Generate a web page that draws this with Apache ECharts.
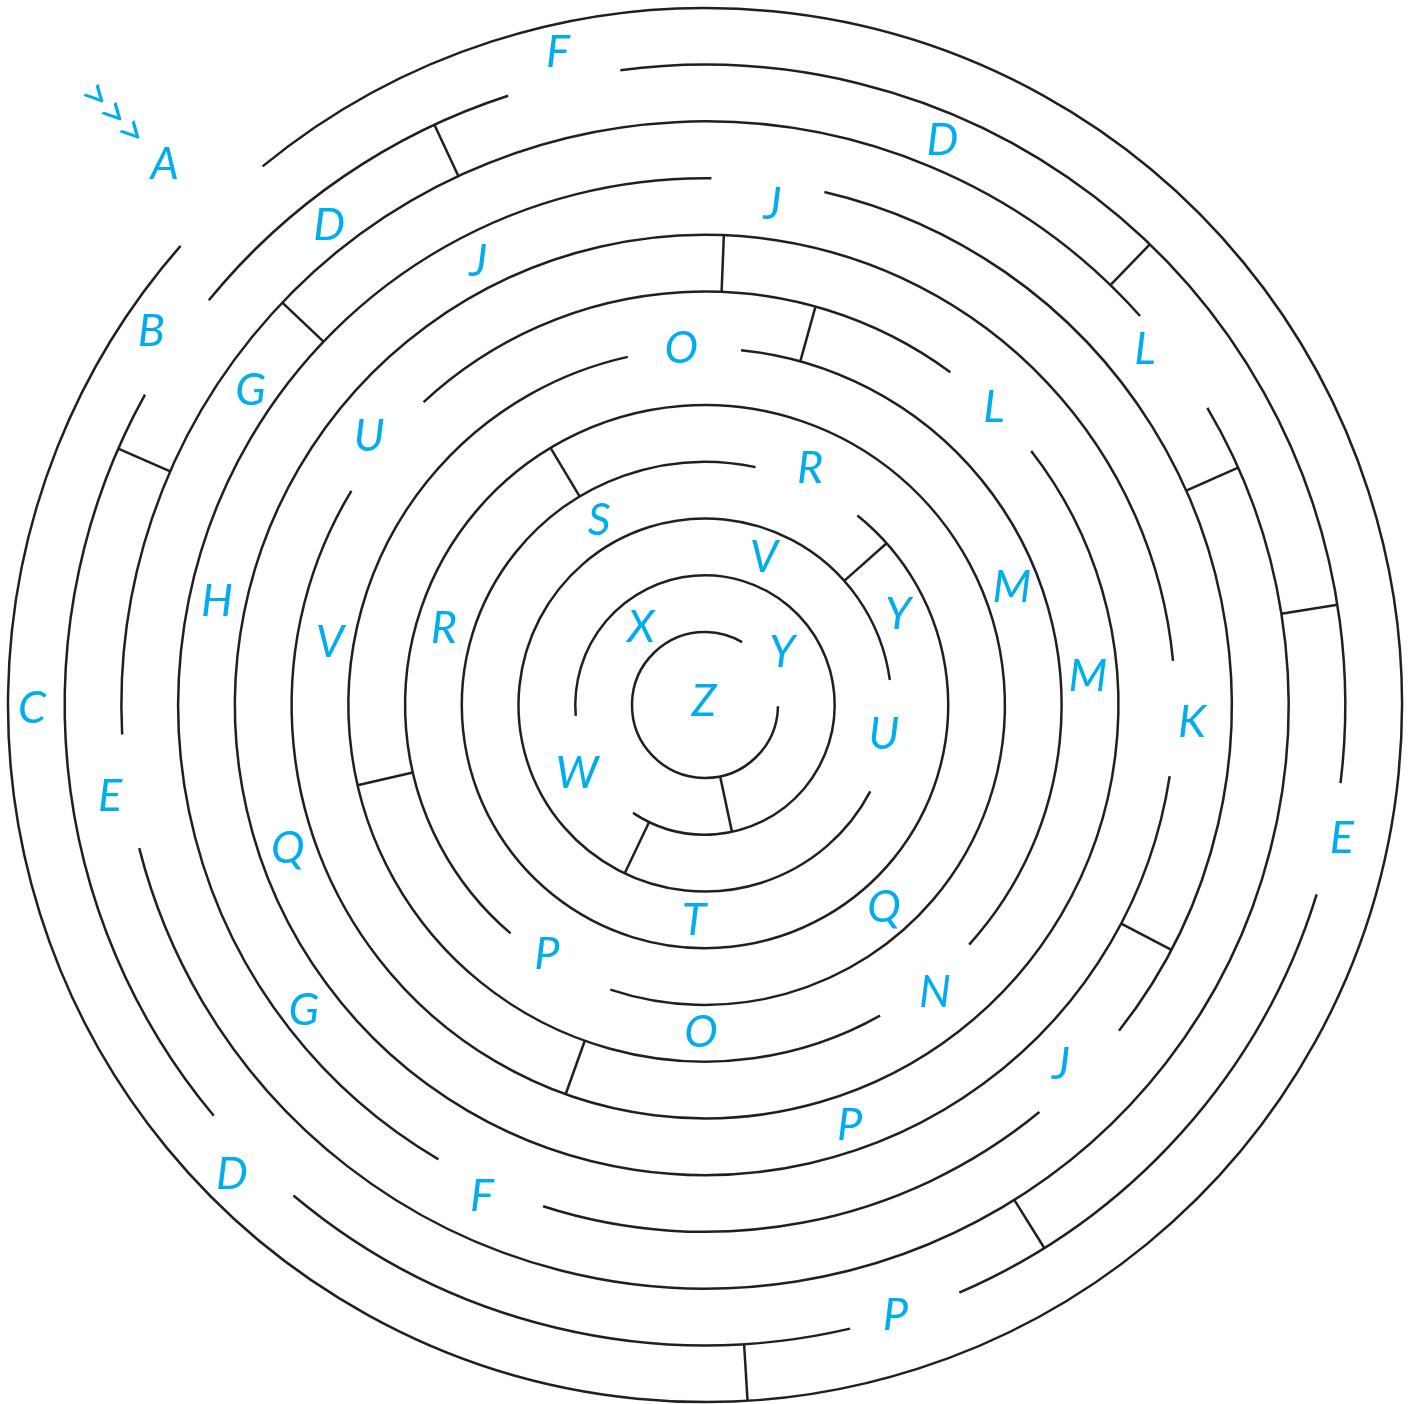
<!DOCTYPE html>
<html>
<head>
<meta charset="utf-8">
<script src="https://cdn.jsdelivr.net/npm/echarts@6/dist/echarts.min.js"></script>
<style>
html,body{margin:0;padding:0;background:#fff;}
#chart{width:1418px;height:1404px;}
</style>
</head>
<body>
<div id="chart"></div>
<script>
// Ring radii (maze units, from the centre outwards)
const RING_RADIUS = [73, 129.7, 186.5, 243.2, 299.9, 356.6, 413.4, 470.1, 526.8, 583.6, 640.3, 697];

// Circular wall segments: ring index, start angle, end angle (degrees, counter-clockwise from east)
const ARC_RING  = [0,    1,     2,    3,    4,     5,     5,     6,    6,     7,    8,     8,    8,     9,    9,     10,   10,    10,    10,    10,    11];
const ARC_START = [59.5, 236.3, 7.7,  78.0, 251.6, 102.5, 317.8, 53.6, 148.8, 5.4,  -38.2, 89.3, 252.1, 41.8, 194.2, -7.0, 107.9, 151.0, 230.0, 293.4, 138.8];
const ARC_END   = [359.0,544.8, 332.4,411.2,589.6, 299.4, 444.2, 132.9,397.9, 351.3,76.9,  239.6,309.4, 182.9,390.6, 97.6, 140.8, 219.9, 283.1, 342.8, 489.4];

// Radial wall segments: angle, inner ring, outer ring
const WALL_ANGLE = [282.0, 244.5, 41.7, 121.0, 193.0, 74.5, 250.3, 87.7, 332.3, 24.0, 136.4, 46.0, 9.0, 115.0, 156.4, 302.0, 273.5];
const WALL_INNER = [0,     1,     2,    3,     4,     5,    5,     6,    7,     8,    8,     9,    9,   9,     9,     9,     10];
const WALL_OUTER = [1,     2,     3,    4,     5,     6,    6,     7,    8,     9,    9,     10,   10,  10,    10,    10,    11];

// Letters: text, radius, angle
const LETTERS = ['>>>', 'A', 'F', 'D', 'D', 'J', 'J', 'B', 'G', 'L', 'L', 'O', 'U', 'R', 'S', 'V', 'Y', 'M',
                 'H', 'V', 'R', 'X', 'Y', 'M', 'C', 'Z', 'U', 'K', 'W', 'E', 'E', 'Q', 'T', 'Q', 'P', 'N',
                 'G', 'O', 'J', 'P', 'D', 'F', 'P'];
const LETTER_RADIUS = [836, 764, 669.3, 612.7, 609, 497.8, 504.6, 667.9, 552.6, 565.4, 414.4, 357.8, 429.8, 259.2, 212.3, 159.3, 213, 328.5,
                 499, 380.3, 272.1, 100.1, 93.5, 384, 673, 3.2, 181.5, 487.3, 144.9, 601.9, 650.7, 441.2, 215.3, 270.6, 295.7, 367.8,
                 504.4, 328, 506.3, 444.3, 666.8, 540.2, 639.9];
const LETTER_ANGLE = [135.0, 135.0, 102.7, 67.2, 128.1, 117.1, 82.3, 146.0, 145.3, 38.9, 45.8, 93.8, 141.4, 66.1, 119.9, 68.3, 25.0, 20.9,
                 168.0, 170.5, 163.6, 129.7, 34.5, 4.2, 180.3, 108, 350.5, 358.0, 208.0, 188.7, 348.2, 199.0, 267.1, 311.4, 237.7, 308.7,
                 217.3, 269.3, 314.7, 289.0, 224.8, 245.6, 287.3];
const LETTER_ROTATE = LETTERS.map(t => t === '>>>' ? -45 : 0);

const LINE_COLOR = '#231f20';
const TEXT_COLOR = '#00aeef';

const chart = echarts.init(document.getElementById('chart'), null, {renderer: 'canvas'});

function arcItem(params, api) {
  const r = api.value(0), a0 = api.value(1), a1 = api.value(2);
  const c = api.coord([0, 0]);
  const p0 = api.coord([r, a0]);
  const p1 = api.coord([r, a1]);
  const rad = Math.hypot(p0[0] - c[0], p0[1] - c[1]);
  let s = Math.atan2(p0[1] - c[1], p0[0] - c[0]);
  let e = Math.atan2(p1[1] - c[1], p1[0] - c[0]);
  // counter-clockwise on screen: decreasing screen angle
  while (e > s) e -= Math.PI * 2;
  while (s - e > Math.PI * 2) e += Math.PI * 2;
  return {
    type: 'arc',
    shape: {cx: c[0], cy: c[1], r: rad, startAngle: e, endAngle: s, clockwise: true},
    style: {stroke: LINE_COLOR, lineWidth: 2.5, fill: null, lineCap: 'butt'}
  };
}

function wallItem(params, api) {
  const p0 = api.coord([api.value(0), api.value(1)]);
  const p1 = api.coord([api.value(2), api.value(1)]);
  return {
    type: 'line',
    shape: {x1: p0[0], y1: p0[1], x2: p1[0], y2: p1[1]},
    style: {stroke: LINE_COLOR, lineWidth: 2.5, lineCap: 'butt'}
  };
}

function letterItem(params, api) {
  const p = api.coord([api.value(0), api.value(1)]);
  const i = params.dataIndex;
  const isArrow = LETTERS[i] === '>>>';
  return {
    type: 'text',
    x: p[0], y: p[1],
    rotation: LETTER_ROTATE[i] * Math.PI / 180,
    style: {
      text: LETTERS[i],
      x: 0, y: 0,
      align: 'center', verticalAlign: 'middle',
      fill: TEXT_COLOR,
      font: isArrow ? 'italic 400 44px Lato' : 'italic 400 45px Lato'
    }
  };
}

chart.setOption({
  animation: false,
  backgroundColor: '#ffffff',
  polar: {center: [705, 705], radius: 697},
  radiusAxis: {type: 'value', min: 0, max: 697, show: false},
  angleAxis: {type: 'value', min: 0, max: 360, startAngle: 0, clockwise: false, show: false},
  series: [
    {
      type: 'custom', name: 'rings', coordinateSystem: 'polar',
      data: ARC_RING.map((k, i) => [RING_RADIUS[k], ARC_START[i], ARC_END[i]]),
      renderItem: arcItem, silent: true
    },
    {
      type: 'custom', name: 'walls', coordinateSystem: 'polar',
      data: WALL_ANGLE.map((a, i) => [RING_RADIUS[WALL_INNER[i]], a, RING_RADIUS[WALL_OUTER[i]]]),
      renderItem: wallItem, silent: true
    },
    {
      type: 'custom', name: 'letters', coordinateSystem: 'polar',
      data: LETTERS.map((t, i) => [LETTER_RADIUS[i], LETTER_ANGLE[i]]),
      renderItem: letterItem, silent: true
    }
  ]
});
</script>
</body>
</html>
